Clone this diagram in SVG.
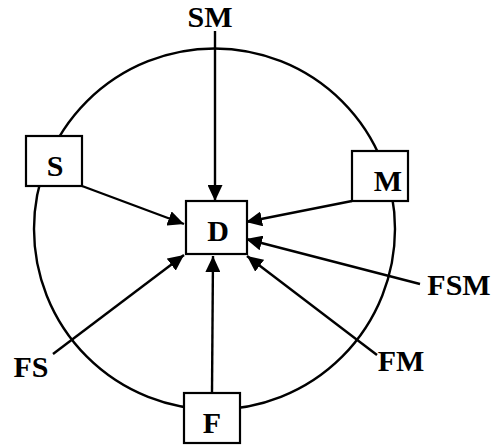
<svg xmlns="http://www.w3.org/2000/svg" width="491" height="446" viewBox="0 0 491 446">
<style>
.box{fill:#fff;stroke:#000;stroke-width:2.2}
.lbl{font-family:"Liberation Serif","Times New Roman",serif;font-weight:bold;font-size:30px;fill:#000;text-anchor:middle}
.conn{stroke:#000;stroke-width:2.4;fill:none}
</style>
<defs>
<marker id="ah" markerUnits="userSpaceOnUse" markerWidth="16" markerHeight="15" refX="16" refY="7.5" orient="auto" viewBox="0 0 16 15">
<path d="M0,0 L16,7.5 L0,15 Z" fill="#000"/>
</marker>
</defs>
<circle cx="214.5" cy="229" r="180.5" fill="none" stroke="#000" stroke-width="2.4"/>
<g id="connectors">
<line class="conn" x1="215" y1="31" x2="215" y2="201" marker-end="url(#ah)"/>
<line class="conn" x1="82" y1="186" x2="184" y2="224" marker-end="url(#ah)"/>
<line class="conn" x1="352" y1="201" x2="246" y2="222" marker-end="url(#ah)"/>
<line class="conn" x1="420" y1="284" x2="246" y2="239" marker-end="url(#ah)"/>
<line class="conn" x1="377" y1="355" x2="247" y2="256" marker-end="url(#ah)"/>
<line class="conn" x1="212" y1="392" x2="213" y2="256" marker-end="url(#ah)"/>
<line class="conn" x1="53" y1="354" x2="184" y2="255" marker-end="url(#ah)"/>
</g>
<g id="node-S"><rect class="box" x="26" y="136" width="56" height="50"/><text class="lbl" x="55" y="176">S</text></g>
<g id="node-M"><rect class="box" x="352" y="151" width="56" height="50"/><text class="lbl" x="388" y="191">M</text></g>
<g id="node-F"><rect class="box" x="184" y="393" width="56" height="50"/><text class="lbl" x="212" y="433">F</text></g>
<g id="node-D"><rect class="box" x="186" y="201" width="61" height="53"/><text class="lbl" x="218" y="241">D</text></g>
<g id="label-SM"><text class="lbl" x="210" y="27">SM</text></g>
<g id="label-FSM"><text class="lbl" x="459" y="295">FSM</text></g>
<g id="label-FM"><text class="lbl" x="401" y="371">FM</text></g>
<g id="label-FS"><text class="lbl" x="31" y="377">FS</text></g>
</svg>
